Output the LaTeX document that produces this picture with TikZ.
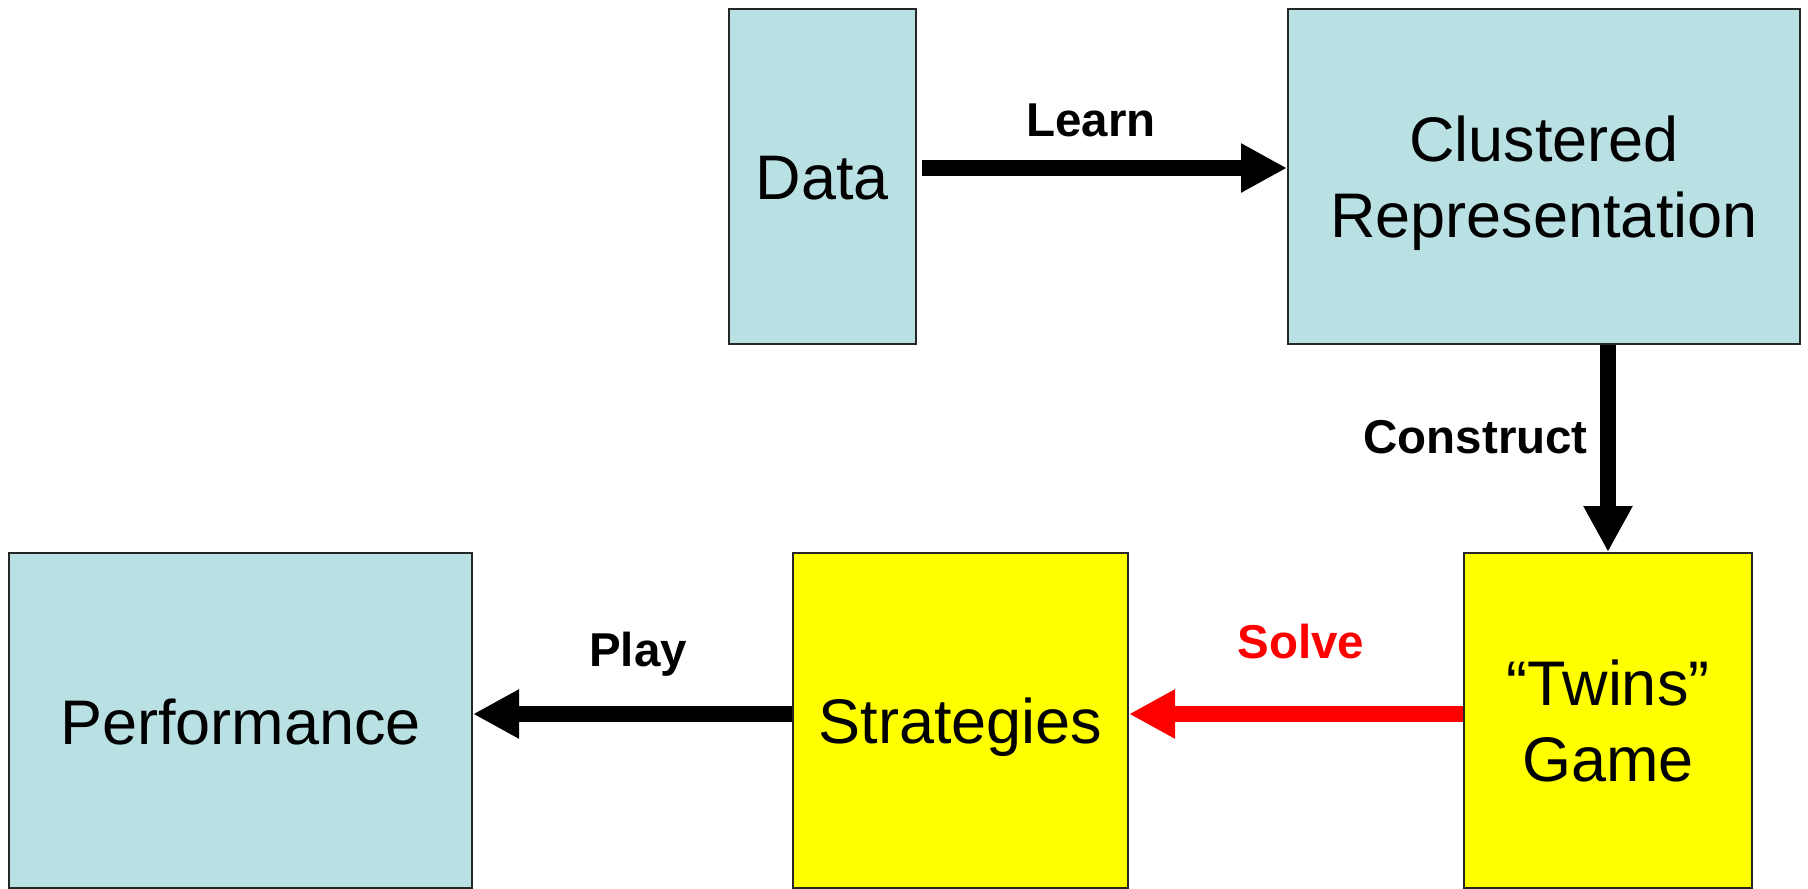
\documentclass[tikz,border=0pt]{standalone}
\usepackage{fontspec}
\setmainfont{Liberation Sans}
\usetikzlibrary{arrows.meta}
\definecolor{boxblue}{HTML}{B9E0E3}
\definecolor{boxyellow}{HTML}{FFFF00}
\definecolor{arrowred}{HTML}{FF0000}
\newcommand{\boxtext}[2]{\raisebox{-#1}[\height][\depth]{\begin{tabular}{@{}c@{}}#2\end{tabular}}}
\tikzset{
  box/.style={draw=black!85, line width=2pt, rectangle, align=center,
    font=\fontsize{63}{76}\selectfont, inner sep=0pt},
  bluebox/.style={box, fill=boxblue},
  yellowbox/.style={box, fill=boxyellow},
  flow/.style={line width=16pt, -{Triangle[length=46pt,width=46pt]}},
  lbl/.style={font=\bfseries\fontsize{47.5}{57}\selectfont, inner sep=0pt}
}
\begin{document}
\begin{tikzpicture}[x=1pt,y=-1pt]
\useasboundingbox (0,0) rectangle (1808,889);
\node[bluebox, minimum width=187pt, minimum height=335pt] (data) at (822.5,176.5) {\boxtext{8pt}{Data}};
\node[bluebox, minimum width=512pt, minimum height=335pt] (clus) at (1544,176.5) {\boxtext{8pt}{Clustered\\Representation}};
\node[yellowbox, minimum width=288pt, minimum height=335pt] (twins) at (1608,720.5) {\boxtext{8pt}{``Twins''\\Game}};
\node[yellowbox, minimum width=335pt, minimum height=335pt] (strat) at (960.5,720.5) {\boxtext{8pt}{Strategies}};
\node[bluebox, minimum width=463pt, minimum height=335pt] (perf) at (240.5,720.5) {\boxtext{9pt}{Performance}};

\coordinate (lrnA) at (922,168);
\coordinate (slvA) at (1463,714);
\draw[flow] (lrnA) -- (lrnA -| clus.west);
\draw[flow] (clus.south -| twins.north) -- (twins.north);
\draw[flow, arrowred] (slvA) -- (slvA -| strat.east);
\draw[flow] (slvA -| strat.west) -- (slvA -| perf.east);

\node[lbl, anchor=base] (learn) at (1091,136) {Learn};
\node[lbl, anchor=base east] (construct) at (1588,453) {Construct};
\node[lbl, anchor=base, text=arrowred] (solve) at (1301,658) {Solve};
\node[lbl, anchor=base] (play) at (638,666) {Play};
\end{tikzpicture}
\end{document}
